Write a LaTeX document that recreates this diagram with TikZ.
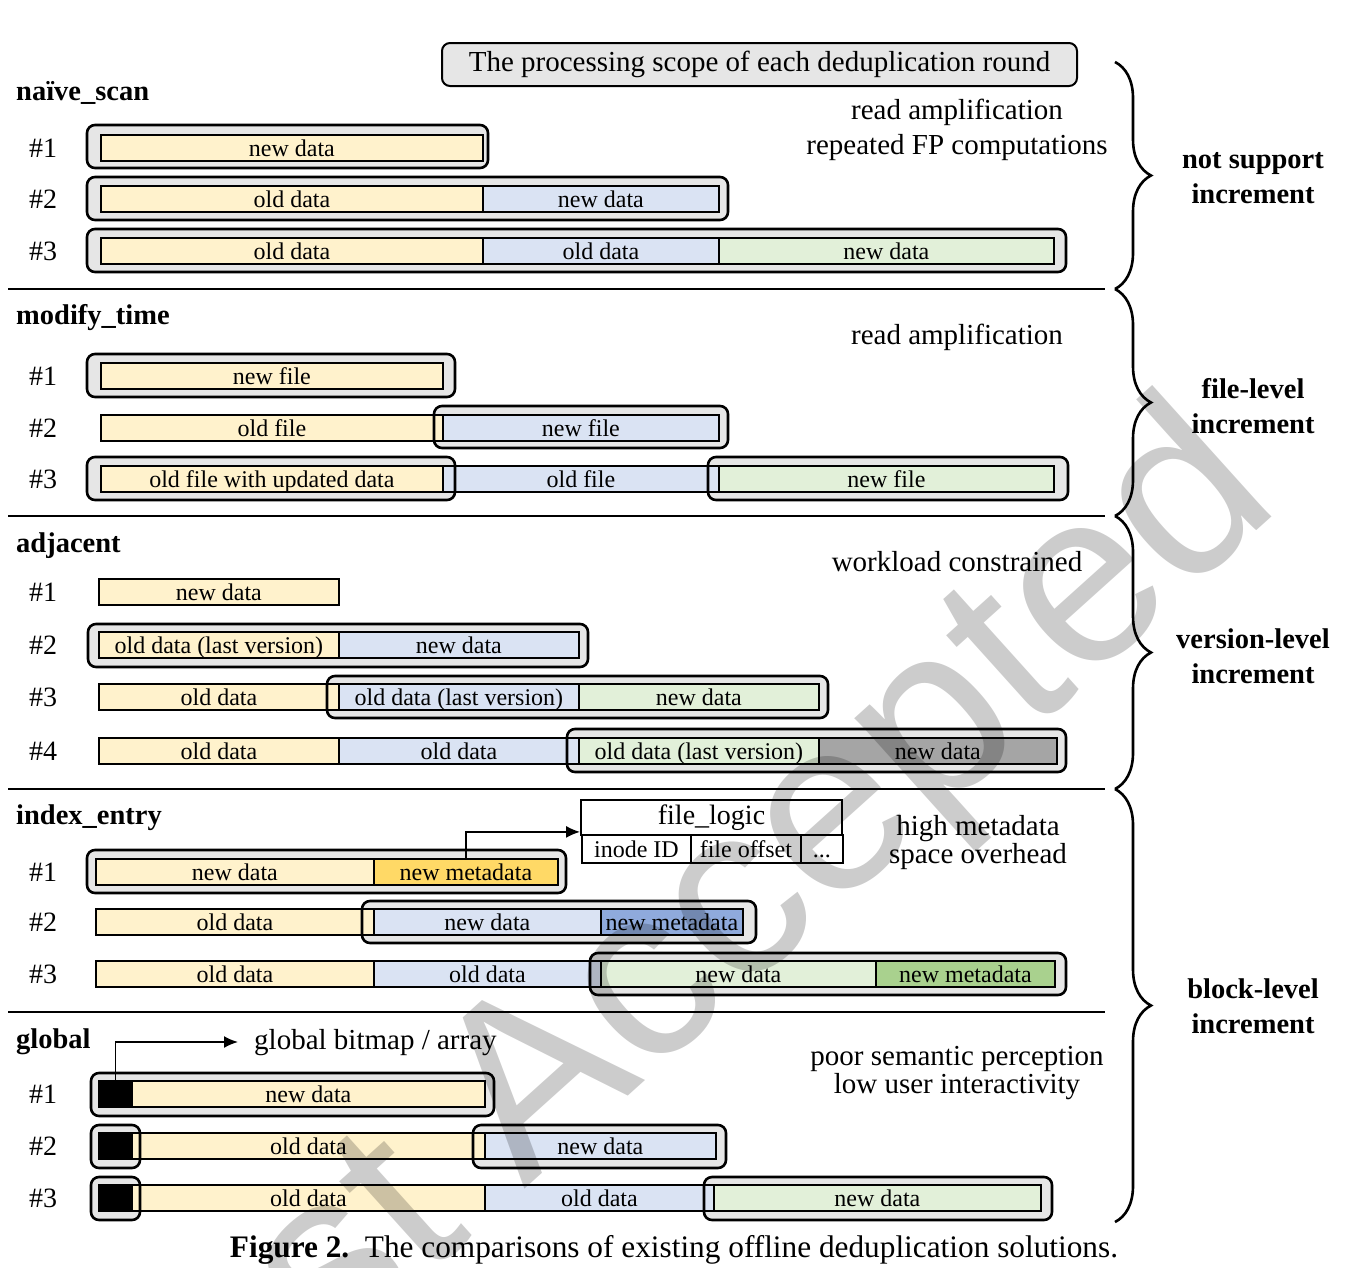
\documentclass[tikz,border=0pt]{standalone}
\usepackage{fontspec}
\setmainfont{Liberation Serif}
\newfontfamily\wmfont{Liberation Sans}
\usepackage{tikz}
\usetikzlibrary{positioning,arrows.meta,decorations.pathreplacing}
\definecolor{yel}{HTML}{FFF2CC}
\definecolor{blu}{HTML}{DAE3F3}
\definecolor{grn}{HTML}{E2F0D9}
\definecolor{scopegray}{HTML}{E6E6E6}
\definecolor{gold}{HTML}{FFD966}
\definecolor{mblu}{HTML}{8FAADC}
\definecolor{mgrn}{HTML}{A9D18E}
\definecolor{dgray}{HTML}{A5A5A5}
% scope boxes: x1/y1/x2/y2
\def\scopeboxes{87/125/488/168, 87/177/728/220, 87/229/1066/272,
  87/354/455/397, 434/406/728/448, 87/457/455/500, 708/457/1068/500,
  88/624/588/667, 327/676/828/718, 567/729/1066/772,
  87/850/566/893, 362/901/756/943, 590/953/1066/995,
  91/1073/494/1116, 91/1125/140/1168, 473/1125/726/1168, 91/1177/140/1220, 704/1177/1052/1220}

\begin{document}
\begin{tikzpicture}[x=1pt,y=-1pt,
	bar/.style={draw,line width=1.8pt,minimum height=26pt,inner sep=0pt,anchor=west,text height=20pt,text depth=4pt,font=\fontsize{24}{24}\selectfont},
	rowlbl/.style={font=\fontsize{28}{28}\selectfont},
	sectitle/.style={anchor=west,inner sep=0pt,font=\bfseries\fontsize{28.5}{30}\selectfont},
	note/.style={align=center,font=\fontsize{29}{28}\selectfont},
	kind/.style={align=center,font=\bfseries\fontsize{28.5}{35}\selectfont},
	secline/.style={line width=2.6pt},
	brc/.style={decorate,decoration={brace,amplitude=36pt},line width=2.6pt},
	arr/.style={-{Latex[length=14pt,width=12pt]},line width=1.8pt}]
	\useasboundingbox (0,0) rectangle (1351,1267);
	% gray scope of each round
	\foreach \a/\b/\c/\d in \scopeboxes
		\fill[scopegray,rounded corners=8pt] (\a,\b) rectangle (\c,\d);
	\node[draw,fill=scopegray,rounded corners=8pt,line width=2pt,minimum width=635pt,minimum height=43pt,font=\fontsize{29}{29}\selectfont] (hdr) at (759.5,64.5) {The processing scope of each deduplication round};
	
	% naive_scan
	\node[sectitle] (tnaive) at (16,93) {naïve\_scan};
	\node[rowlbl] (ns1) at (43,148) {\#1};
	\node[rowlbl] (ns2) at (43,199) {\#2};
	\node[rowlbl] (ns3) at (43,251) {\#3};
	\node[bar,fill=yel,minimum width=382pt] (ns1a) at (100,148) {new data};
	\node[bar,fill=yel,minimum width=382pt] (ns2a) at (100,199) {old data};
	\node[bar,fill=blu,minimum width=236pt] (ns2b) at (482,199) {new data};
	\node[bar,fill=yel,minimum width=382pt] (ns3a) at (100,251) {old data};
	\node[bar,fill=blu,minimum width=236pt] (ns3b) at (482,251) {old data};
	\node[bar,fill=grn,minimum width=335pt] (ns3c) at (718,251) {new data};
	\node[note,font=\fontsize{29}{35}\selectfont] (nsnote) at (957,130) {read amplification\\repeated FP computations};
	\draw[secline] (8,289) -- (1105,289);
	
	% modify_time
	\node[sectitle] (tmodify) at (16,318) {modify\_time};
	\node[rowlbl] (mt1) at (43,376) {\#1};
	\node[rowlbl] (mt2) at (43,428) {\#2};
	\node[rowlbl] (mt3) at (43,479) {\#3};
	\node[bar,fill=yel,minimum width=342pt] (mt1a) at (100,376) {new file};
	\node[bar,fill=yel,minimum width=342pt] (mt2a) at (100,428) {old file};
	\node[bar,fill=blu,minimum width=276pt] (mt2b) at (442,428) {new file};
	\node[bar,fill=yel,minimum width=342pt] (mt3a) at (100,479) {old file with updated data};
	\node[bar,fill=blu,minimum width=276pt] (mt3b) at (442,479) {old file};
	\node[bar,fill=grn,minimum width=335pt] (mt3c) at (718,479) {new file};
	\node[note] (mtnote) at (957,337) {read amplification};
	\draw[secline] (8,516) -- (1105,516);
	
	% adjacent
	\node[sectitle] (tadj) at (16,546) {adjacent};
	\node[rowlbl] (ad1) at (43,592) {\#1};
	\node[rowlbl] (ad2) at (43,645) {\#2};
	\node[rowlbl] (ad3) at (43,697) {\#3};
	\node[rowlbl] (ad4) at (43,751) {\#4};
	\node[bar,fill=yel,minimum width=240pt] (ad1a) at (98,592) {new data};
	\node[bar,fill=yel,minimum width=240pt] (ad2a) at (98,645) {old data (last version)};
	\node[bar,fill=blu,minimum width=240pt] (ad2b) at (338,645) {new data};
	\node[bar,fill=yel,minimum width=240pt] (ad3a) at (98,697) {old data};
	\node[bar,fill=blu,minimum width=240pt] (ad3b) at (338,697) {old data (last version)};
	\node[bar,fill=grn,minimum width=240pt] (ad3c) at (578,697) {new data};
	\node[bar,fill=yel,minimum width=240pt] (ad4a) at (98,751) {old data};
	\node[bar,fill=blu,minimum width=240pt] (ad4b) at (338,751) {old data};
	\node[bar,fill=grn,minimum width=240pt] (ad4c) at (578,751) {old data (last version)};
	\node[bar,fill=dgray,minimum width=238pt] (ad4d) at (818,751) {new data};
	\node[note] (adnote) at (957,562) {workload constrained};
	\draw[secline] (8,789) -- (1105,789);
	
	% index_entry
	\node[sectitle] (tindex) at (16,818) {index\_entry};
	\node[rowlbl] (ie1) at (43,872) {\#1};
	\node[rowlbl] (ie2) at (43,922) {\#2};
	\node[rowlbl] (ie3) at (43,974) {\#3};
	\node[bar,fill=yel,minimum width=278pt] (ie1a) at (95,872) {new data};
	\node[bar,fill=gold,minimum width=184pt] (ie1b) at (373,872) {new metadata};
	\node[bar,fill=yel,minimum width=278pt] (ie2a) at (95,922) {old data};
	\node[bar,fill=blu,minimum width=227pt] (ie2b) at (373,922) {new data};
	\node[bar,fill=mblu,minimum width=142pt] (ie2c) at (600,922) {new metadata};
	\node[bar,fill=yel,minimum width=278pt] (ie3a) at (95,974) {old data};
	\node[bar,fill=blu,minimum width=227pt] (ie3b) at (373,974) {old data};
	\node[bar,fill=grn,minimum width=275pt] (ie3c) at (600,974) {new data};
	\node[bar,fill=mgrn,minimum width=179pt] (ie3d) at (875,974) {new metadata};
	\node[draw,line width=1.8pt,minimum width=261pt,minimum height=35pt,inner sep=0pt,font=\fontsize{28}{28}\selectfont] (flhead) at (711.5,817.5) {file\_logic};
	\node[bar,minimum width=109pt,minimum height=28pt] (flinode) at (581,849) {inode ID};
	\node[bar,minimum width=110pt,minimum height=28pt] (floffset) at (690,849) {file offset};
	\node[bar,minimum width=42pt,minimum height=28pt] (flmore) at (800,849) {...};
	\draw[arr] (ie1b.north) |- ([yshift=4pt]flhead.south west);
	\node[note] (ienote) at (978,843) {high metadata\\space overhead};
	\draw[secline] (8,1012) -- (1105,1012);
	
	% global
	\node[sectitle] (tglobal) at (16,1042) {global};
	\node[rowlbl] (gb1) at (43,1094) {\#1};
	\node[rowlbl] (gb2) at (43,1146) {\#2};
	\node[rowlbl] (gb3) at (43,1198) {\#3};
	\node[bar,fill=black,minimum width=33pt] (gb1k) at (98,1094) {};
	\node[bar,fill=yel,minimum width=353pt] (gb1a) at (131,1094) {new data};
	\node[bar,fill=black,minimum width=33pt] (gb2k) at (98,1146) {};
	\node[bar,fill=yel,minimum width=353pt] (gb2a) at (131,1146) {old data};
	\node[bar,fill=blu,minimum width=231pt] (gb2b) at (484,1146) {new data};
	\node[bar,fill=black,minimum width=33pt] (gb3k) at (98,1198) {};
	\node[bar,fill=yel,minimum width=353pt] (gb3a) at (131,1198) {old data};
	\node[bar,fill=blu,minimum width=229pt] (gb3b) at (484,1198) {old data};
	\node[bar,fill=grn,minimum width=327pt] (gb3c) at (713,1198) {new data};
	\node[anchor=west,inner sep=0pt,font=\fontsize{29}{29}\selectfont] (bitmap) at (254,1043) {global bitmap / array};
	\draw[arr] (gb1k.north) |- ([xshift=-16pt,yshift=1pt]bitmap.west);
	\node[note] (gbnote) at (957,1073) {poor semantic perception\\low user interactivity};
	
	% scope outlines on top
	\foreach \a/\b/\c/\d in \scopeboxes
		\draw[line width=2.6pt,rounded corners=8pt] (\a,\b) rectangle (\c,\d);
	
	% braces
	\draw[brc] (1115,62) -- (1115,289);
	\draw[brc] (1115,289) -- (1115,516);
	\draw[brc] (1115,516) -- (1115,789);
	\draw[brc] (1115,789) -- (1115,1222);
	\node[kind] (knot) at (1253,178) {not support\\increment};
	\node[kind] (kfile) at (1253,406) {file-level\\increment};
	\node[kind] (kver) at (1253,656) {version-level\\increment};
	\node[kind] (kblk) at (1253,1006) {block-level\\increment};
	
	\node[font=\fontsize{31.3}{31.3}\selectfont] (caption) at (674,1250) {\textbf{Figure 2.}\enspace The comparisons of existing offline deduplication solutions.};
	
	% watermark
	\node[rotate=42,anchor=base east,inner sep=0pt,opacity=0.2,font=\wmfont\fontsize{245}{245}\selectfont] (wmark) at (1284,506) {Just Accepted};
\end{tikzpicture}
\end{document}
